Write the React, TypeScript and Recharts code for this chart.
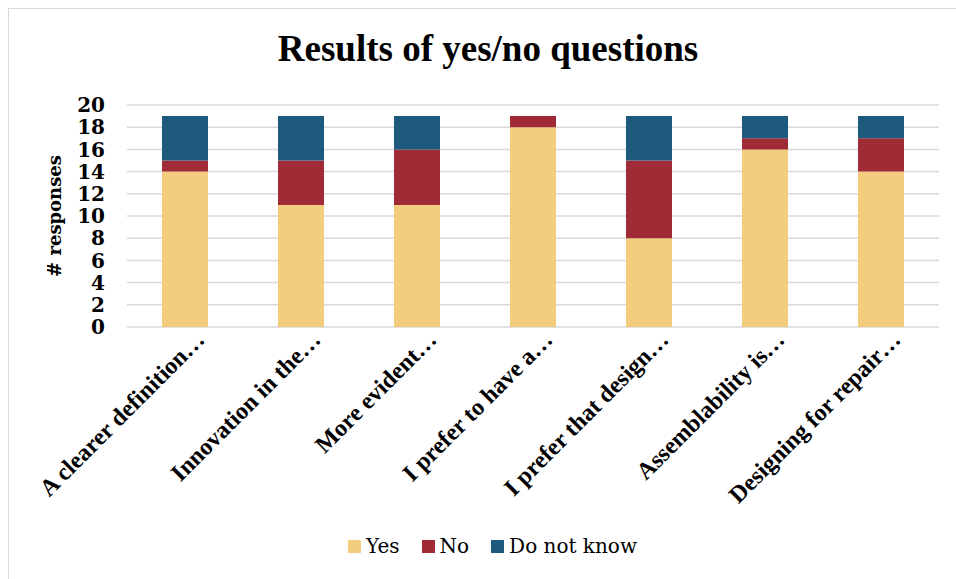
import React from 'react';
import { BarChart, Bar, XAxis, YAxis, CartesianGrid, Legend } from 'recharts';

// survey questions (truncated as in the original chart)
const questions = [
  'A clearer definition…',
  'Innovation in the…',
  'More evident…',
  'I prefer to have a…',
  'I prefer that design…',
  'Assemblability is…',
  'Designing for repair…',
];
const yesCounts = [14, 11, 11, 18, 8, 16, 14];
const noCounts = [1, 4, 5, 1, 7, 1, 3];
const dontKnowCounts = [4, 4, 3, 0, 4, 2, 2];
const yTicks = [0, 2, 4, 6, 8, 10, 12, 14, 16, 18, 20];

const series = [
  { key: 'yes', name: 'Yes', color: '#F3CD7E' },
  { key: 'no', name: 'No', color: '#A12A37' },
  { key: 'dk', name: 'Do not know', color: '#1D5A7D' },
];

const data = questions.map((q, i) => ({
  q,
  yes: yesCounts[i],
  no: noCounts[i],
  dk: dontKnowCounts[i],
}));

const SERIF = '"DejaVu Serif", serif';
const TIMES = '"Liberation Serif", "Times New Roman", serif';

const CategoryTick = ({ x, y, payload }: any) => (
  <text
    transform={`translate(${x + 21},${y + 14}) rotate(-45)`}
    textAnchor="end"
    fontFamily={TIMES}
    fontWeight="bold"
    fontSize={24}
    fill="#000"
  >
    {payload.value}
  </text>
);

const LegendContent = () => (
  <div
    style={{
      display: 'flex',
      justifyContent: 'center',
      alignItems: 'center',
      height: 30,
      paddingLeft: 51,
      fontFamily: SERIF,
      fontSize: 20,
      color: '#000',
    }}
  >
    {series.map((s) => (
      <div key={s.key} style={{ display: 'flex', alignItems: 'center', marginRight: 22 }}>
        <span style={{ width: 13, height: 13, background: s.color, marginRight: 5, display: 'inline-block' }} />
        <span>{s.name}</span>
      </div>
    ))}
  </div>
);

export default function App() {
  return (
    <div style={{ position: 'fixed', left: 0, top: 0, width: 956, height: 579, overflow: 'hidden', background: '#fff' }}>
      <div
        style={{
          position: 'absolute',
          left: 8,
          top: 8,
          width: 1000,
          height: 700,
          border: '1px solid #d9d9d9',
        }}
      />
      <div
        style={{
          position: 'absolute',
          left: 0,
          top: 27,
          width: 956,
          textAlign: 'center',
          paddingLeft: 20,
          boxSizing: 'border-box',
          fontFamily: TIMES,
          fontWeight: 'bold',
          fontSize: 37,
          lineHeight: '44px',
          color: '#000',
        }}
      >
        Results of yes/no questions
      </div>
      <div style={{ position: 'absolute', left: 0, top: 0 }}>
        <BarChart
          width={956}
          height={579}
          data={data}
          margin={{ top: 105, right: 17, left: 0, bottom: 18 }}
          barSize={46}
        >
          <CartesianGrid vertical={false} stroke="#d9d9d9" strokeWidth={1.5} />
          <XAxis
            dataKey="q"
            axisLine={false}
            tickLine={false}
            tickSize={0}
            tickMargin={0}
            interval={0}
            height={204}
            tick={<CategoryTick />}
          />
          <YAxis
            width={127}
            domain={[0, 20]}
            ticks={yTicks}
            interval={0}
            axisLine={false}
            tickLine={false}
            tickSize={0}
            tickMargin={22}
            tick={{ fill: '#000', fontSize: 20, fontFamily: SERIF, fontWeight: 'bold' }}
            label={({ viewBox }: any) => (
              <text
                transform={`translate(61,${viewBox.y + viewBox.height / 2}) rotate(-90)`}
                textAnchor="middle"
                fontFamily={SERIF}
                fontWeight="bold"
                fontSize={18}
                fill="#000"
              >
                # responses
              </text>
            )}
          />
          <Legend
            verticalAlign="bottom"
            wrapperStyle={{ left: 0, width: 956 }}
            content={<LegendContent />}
          />
          {series.map((s) => (
            <Bar
              key={s.key}
              dataKey={s.key}
              name={s.name}
              stackId="a"
              fill={s.color}
              isAnimationActive={false}
            />
          ))}
        </BarChart>
      </div>
    </div>
  );
}
